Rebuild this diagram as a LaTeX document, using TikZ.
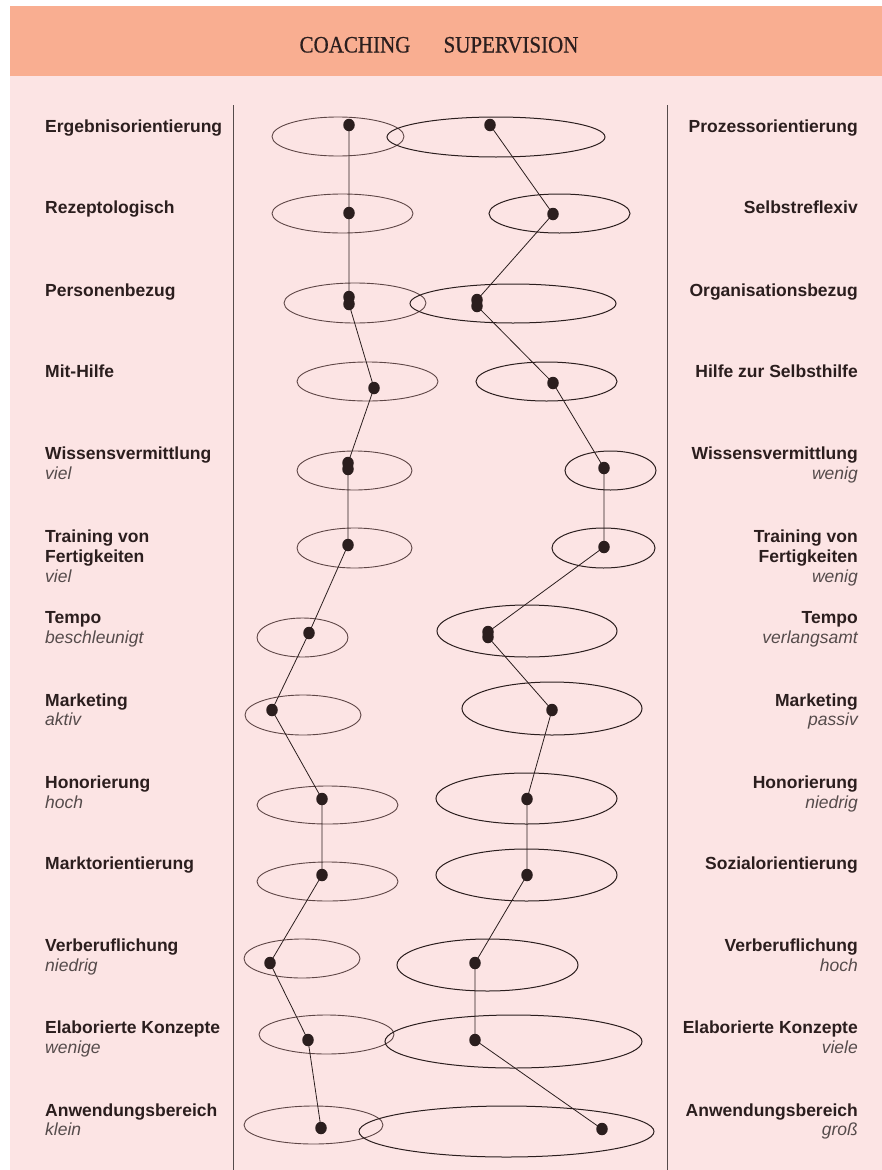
\documentclass[tikz,border=0pt]{standalone}
\usepackage{fontspec}
\setmainfont{Liberation Serif}
\setsansfont{Liberation Sans}
\newfontfamily\ttlfont[FakeBold=0.7]{Liberation Serif}
\usetikzlibrary{shapes.geometric}
\definecolor{headcol}{HTML}{F9AE91}
\definecolor{bodycol}{HTML}{FCE4E4}
\definecolor{ink}{HTML}{2B1E1E}
\definecolor{inkl}{HTML}{5E4646}
\begin{document}
\begin{tikzpicture}[x=1pt,y=-1pt,
  lab/.style={font=\sffamily\bfseries\fontsize{17.5}{20}\selectfont, inner sep=0, text=ink},
  sub/.style={font=\sffamily\itshape\fontsize{17.5}{20}\selectfont, inner sep=0, text=ink!80},
  ttl/.style={font=\ttlfont\fontsize{21}{24}\selectfont, inner sep=0, text=ink},
  dot/.style={ellipse, fill=ink, inner sep=0, minimum width=11.5, minimum height=12.5},
  ellc/.style={ellipse, draw=inkl, line width=0.9pt, inner sep=0},
  ells/.style={ellipse, draw=ink, line width=1pt, inner sep=0},
  link/.style={draw=ink, line width=0.8pt},
  rule/.style={draw=ink!80, line width=1pt}]
\useasboundingbox (0,0) rectangle (882,1170);
\fill[white] (0,0) rectangle (882,1170);
\fill[bodycol] (10,75) rectangle (882,1170);
\fill[headcol] (10,6) rectangle (882,75.5);
\node[ttl, anchor=base] (tc) at (355,52.5) {\scalebox{1}[1.12]{COACHING}};
\node[ttl, anchor=base] (ts) at (511,52.5) {\scalebox{1}[1.12]{SUPERVISION}};
% vertical rules
\coordinate (vl1) at (233.5,105); \coordinate (vl2) at (233.5,1170);
\coordinate (vr1) at (667.5,105); \coordinate (vr2) at (667.5,1170);
\draw[rule] (vl1) -- (vl2);
\draw[rule] (vr1) -- (vr2);
% coaching ellipses
\node[ellc, minimum width=132, minimum height=39] (cE1) at (338,136.5) {};
\node[ellc, minimum width=141, minimum height=39] (cE2) at (342.5,213.5) {};
\node[ellc, minimum width=142, minimum height=40] (cE3) at (355,303) {};
\node[ellc, minimum width=141, minimum height=39] (cE4) at (367.5,381.5) {};
\node[ellc, minimum width=115, minimum height=39] (cE5) at (354.5,470.5) {};
\node[ellc, minimum width=115, minimum height=40] (cE6) at (354.5,548) {};
\node[ellc, minimum width=91, minimum height=39] (cE7) at (302.5,637.5) {};
\node[ellc, minimum width=116, minimum height=40] (cE8) at (303,715) {};
\node[ellc, minimum width=141, minimum height=38] (cE9) at (327.5,805) {};
\node[ellc, minimum width=141, minimum height=39] (cE10) at (327.5,881.5) {};
\node[ellc, minimum width=116, minimum height=39] (cE11) at (302,958.5) {};
\node[ellc, minimum width=135, minimum height=39] (cE12) at (326.5,1034.5) {};
\node[ellc, minimum width=139, minimum height=38] (cE13) at (313.5,1125) {};
% supervision ellipses
\node[ells, minimum width=218, minimum height=40] (sE1) at (496,137) {};
\node[ells, minimum width=141, minimum height=39] (sE2) at (559.5,213.5) {};
\node[ells, minimum width=206, minimum height=39] (sE3) at (513,303.5) {};
\node[ells, minimum width=141, minimum height=39] (sE4) at (546.5,381.5) {};
\node[ells, minimum width=91, minimum height=39] (sE5) at (610.5,470.5) {};
\node[ells, minimum width=103, minimum height=40] (sE6) at (603.5,548) {};
\node[ells, minimum width=180, minimum height=52] (sE7) at (527,631) {};
\node[ells, minimum width=180, minimum height=53] (sE8) at (552,708.5) {};
\node[ells, minimum width=181, minimum height=51] (sE9) at (526.5,798.5) {};
\node[ells, minimum width=181, minimum height=52] (sE10) at (526.5,875) {};
\node[ells, minimum width=181, minimum height=52] (sE11) at (487.5,965) {};
\node[ells, minimum width=257, minimum height=53] (sE12) at (513.5,1041.5) {};
\node[ells, minimum width=295, minimum height=51] (sE13) at (506.5,1131.5) {};
% coaching dots
\coordinate (cP1) at (349,125);
\coordinate (cP2) at (349,213);
\coordinate (cP3) at (349,297);
\coordinate (cP3b) at (349,304);
\coordinate (cP4) at (374,388);
\coordinate (cP5) at (348,463);
\coordinate (cP5b) at (348,469);
\coordinate (cP6) at (348,545);
\coordinate (cP7) at (309,633);
\coordinate (cP8) at (272,710);
\coordinate (cP9) at (322,799);
\coordinate (cP10) at (322,875);
\coordinate (cP11) at (270,963);
\coordinate (cP12) at (308,1040);
\coordinate (cP13) at (321,1128);
% supervision dots
\coordinate (sP1) at (490,125);
\coordinate (sP2) at (553,214);
\coordinate (sP3) at (477,300);
\coordinate (sP3b) at (477,306);
\coordinate (sP4) at (553,383);
\coordinate (sP5) at (604,468);
\coordinate (sP6) at (604,547);
\coordinate (sP7) at (488,632);
\coordinate (sP7b) at (488,637);
\coordinate (sP8) at (552,710);
\coordinate (sP9) at (527,799);
\coordinate (sP10) at (527,875);
\coordinate (sP11) at (475,963);
\coordinate (sP12) at (475,1040);
\coordinate (sP13) at (602,1129);
\draw[link] (cP1) -- (cP2) -- (cP3) -- (cP3b) -- (cP4) -- (cP5) -- (cP5b) -- (cP6) -- (cP7) -- (cP8) -- (cP9) -- (cP10) -- (cP11) -- (cP12) -- (cP13);
\draw[link] (sP1) -- (sP2) -- (sP3) -- (sP3b) -- (sP4) -- (sP5) -- (sP6) -- (sP7) -- (sP7b) -- (sP8) -- (sP9) -- (sP10) -- (sP11) -- (sP12) -- (sP13);
\foreach \n in {cP1,cP2,cP3,cP3b,cP4,cP5,cP5b,cP6,cP7,cP8,cP9,cP10,cP11,cP12,cP13,sP1,sP2,sP3,sP3b,sP4,sP5,sP6,sP7,sP7b,sP8,sP9,sP10,sP11,sP12,sP13}
  \node[dot] (d\n) at (\n) {};
% left labels
\node[lab, anchor=base west] (l1) at (45,132) {Ergebnisorientierung};
\node[lab, anchor=base west] (l2) at (45,213) {Rezeptologisch};
\node[lab, anchor=base west] (l3) at (45,296) {Personenbezug};
\node[lab, anchor=base west] (l4) at (45,377) {Mit-Hilfe};
\node[lab, anchor=base west] (l5) at (45,459) {Wissensvermittlung};
\node[sub, anchor=base west] (l5s) at (45,479) {viel};
\node[lab, anchor=base west] (l6) at (45,542) {Training von};
\node[lab, anchor=base west] (l6b) at (45,562) {Fertigkeiten};
\node[sub, anchor=base west] (l6s) at (45,582) {viel};
\node[lab, anchor=base west] (l7) at (45,623) {Tempo};
\node[sub, anchor=base west] (l7s) at (45,643) {beschleunigt};
\node[lab, anchor=base west] (l8) at (45,706) {Marketing};
\node[sub, anchor=base west] (l8s) at (45,725) {aktiv};
\node[lab, anchor=base west] (l9) at (45,788) {Honorierung};
\node[sub, anchor=base west] (l9s) at (45,808) {hoch};
\node[lab, anchor=base west] (l10) at (45,869) {Marktorientierung};
\node[lab, anchor=base west] (l11) at (45,951) {Verberuflichung};
\node[sub, anchor=base west] (l11s) at (45,971) {niedrig};
\node[lab, anchor=base west] (l12) at (45,1033) {Elaborierte Konzepte};
\node[sub, anchor=base west] (l12s) at (45,1053) {wenige};
\node[lab, anchor=base west] (l13) at (45,1116) {Anwendungsbereich};
\node[sub, anchor=base west] (l13s) at (45,1135) {klein};
% right labels
\node[lab, anchor=base east] (r1) at (858,132) {Prozessorientierung};
\node[lab, anchor=base east] (r2) at (858,213) {Selbstreflexiv};
\node[lab, anchor=base east] (r3) at (858,296) {Organisationsbezug};
\node[lab, anchor=base east] (r4) at (858,377) {Hilfe zur Selbsthilfe};
\node[lab, anchor=base east] (r5) at (858,459) {Wissensvermittlung};
\node[sub, anchor=base east] (r5s) at (858,479) {wenig};
\node[lab, anchor=base east] (r6) at (858,542) {Training von};
\node[lab, anchor=base east] (r6b) at (858,562) {Fertigkeiten};
\node[sub, anchor=base east] (r6s) at (858,582) {wenig};
\node[lab, anchor=base east] (r7) at (858,623) {Tempo};
\node[sub, anchor=base east] (r7s) at (858,643) {verlangsamt};
\node[lab, anchor=base east] (r8) at (858,706) {Marketing};
\node[sub, anchor=base east] (r8s) at (858,725) {passiv};
\node[lab, anchor=base east] (r9) at (858,788) {Honorierung};
\node[sub, anchor=base east] (r9s) at (858,808) {niedrig};
\node[lab, anchor=base east] (r10) at (858,869) {Sozialorientierung};
\node[lab, anchor=base east] (r11) at (858,951) {Verberuflichung};
\node[sub, anchor=base east] (r11s) at (858,971) {hoch};
\node[lab, anchor=base east] (r12) at (858,1033) {Elaborierte Konzepte};
\node[sub, anchor=base east] (r12s) at (858,1053) {viele};
\node[lab, anchor=base east] (r13) at (858,1116) {Anwendungsbereich};
\node[sub, anchor=base east] (r13s) at (858,1135) {groß};
\end{tikzpicture}
\end{document}
